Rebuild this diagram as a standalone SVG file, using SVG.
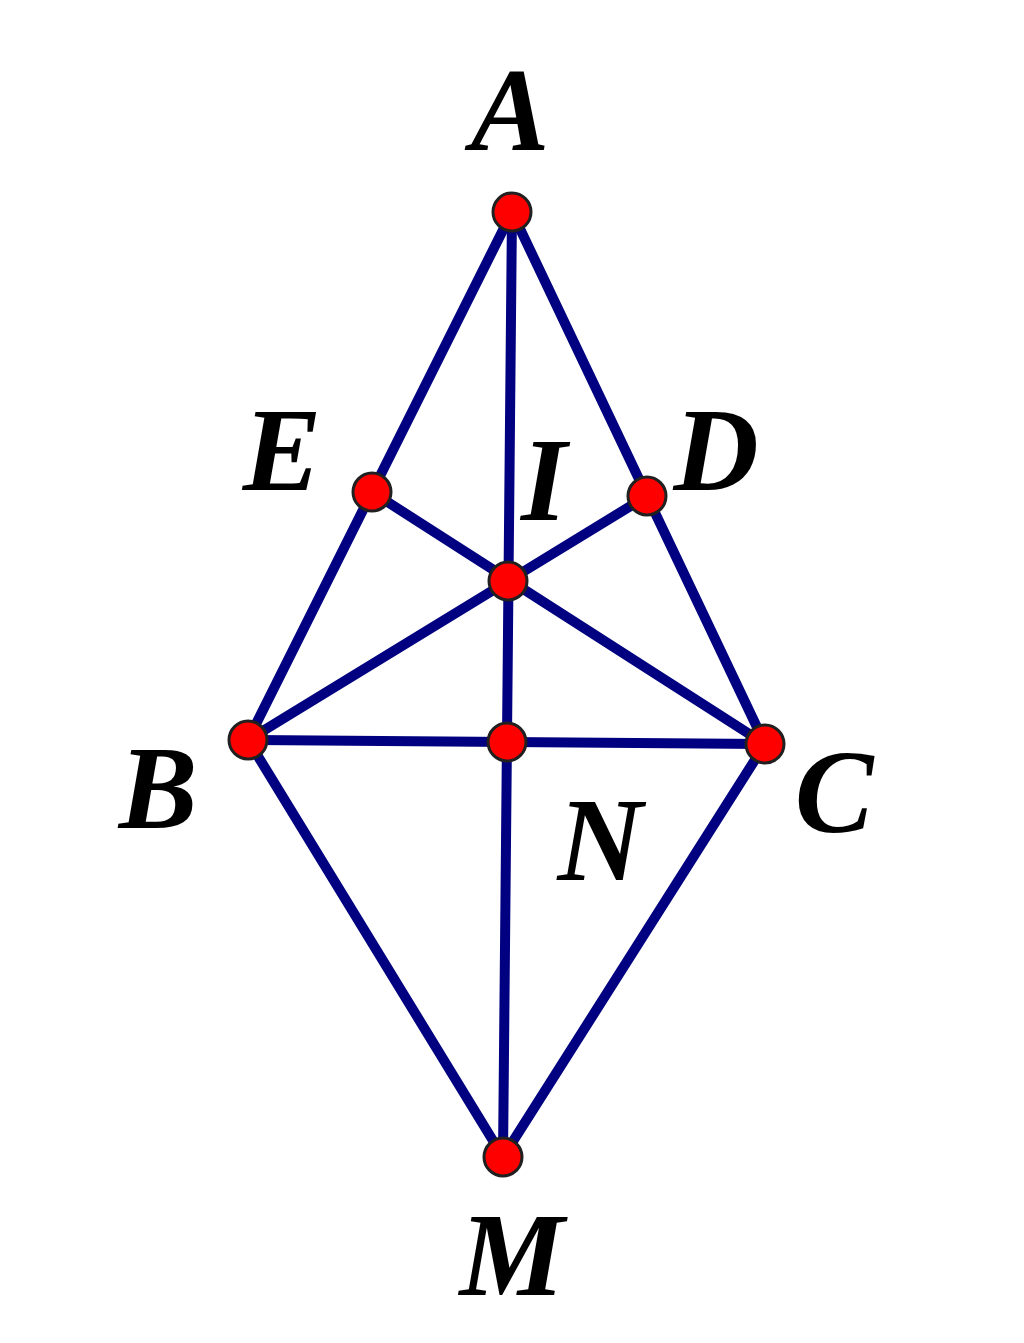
<svg xmlns="http://www.w3.org/2000/svg" width="1024" height="1343" viewBox="0 0 1024 1343">
<style>
.e{stroke:#000080;stroke-width:10;stroke-linecap:round;fill:none}
.p{fill:#ff0000;stroke:#202020;stroke-width:3}
.l{font-family:"Liberation Serif",serif;font-style:italic;font-weight:bold;font-size:118px;fill:#000;text-anchor:middle}
</style>
<rect width="1024" height="1343" fill="#fff"/>
<g id="connectors">
<line class="e" x1="512" y1="212" x2="248" y2="740"/>
<line class="e" x1="512" y1="212" x2="765" y2="744"/>
<line class="e" x1="512" y1="212" x2="503" y2="1157"/>
<line class="e" x1="248" y1="740" x2="765" y2="744"/>
<line class="e" x1="248" y1="740" x2="503" y2="1157"/>
<line class="e" x1="765" y1="744" x2="503" y2="1157"/>
<line class="e" x1="372" y1="492" x2="765" y2="744"/>
<line class="e" x1="647" y1="496" x2="248" y2="740"/>
</g>
<g id="A"><circle class="p" cx="512" cy="212" r="19"/><text class="l" x="510" y="150">A</text></g>
<g id="E"><circle class="p" cx="372" cy="492" r="19"/><text class="l" x="282" y="490">E</text></g>
<g id="D"><circle class="p" cx="647" cy="496" r="19"/><text class="l" x="716" y="490">D</text></g>
<g id="I"><circle class="p" cx="508" cy="581" r="19"/><text class="l" x="544" y="520">I</text></g>
<g id="B"><circle class="p" cx="248" cy="740" r="19"/><text class="l" x="158" y="828">B</text></g>
<g id="N"><circle class="p" cx="507" cy="742" r="19"/><text class="l" x="600" y="880">N</text></g>
<g id="C"><circle class="p" cx="765" cy="744" r="19"/><text class="l" x="834" y="832">C</text></g>
<g id="M"><circle class="p" cx="503" cy="1157" r="19"/><text class="l" x="512" y="1295">M</text></g>
</svg>
